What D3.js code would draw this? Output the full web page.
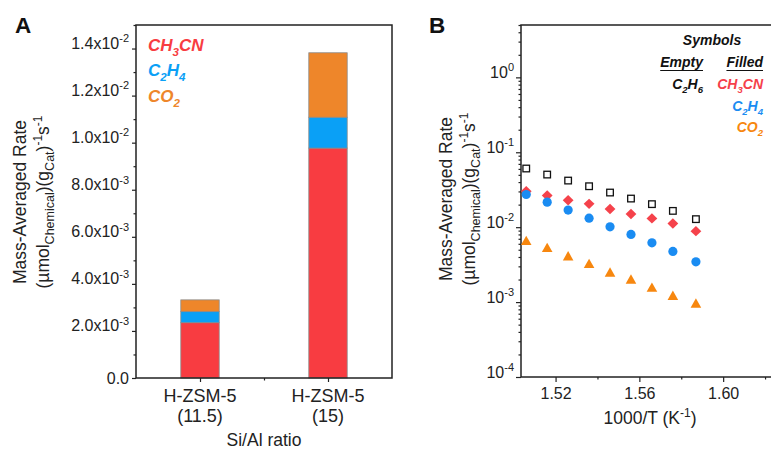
<!DOCTYPE html>
<html><head><meta charset="utf-8">
<script src="https://cdn.jsdelivr.net/npm/d3@7"></script>
<style>
body{margin:0;background:#fff;}
svg{display:block;font-family:"Liberation Sans",Arial,Helvetica,sans-serif;}
</style></head><body>
<svg id="chart" width="771" height="450"></svg>
<script>
// ---------- Panel A: stacked mass-averaged rates per catalyst ----------
const catalystNames = ["H-ZSM-5", "H-ZSM-5"];
const catalystRatios = ["(11.5)", "(15)"];
const products = ["CH3CN", "C2H4", "CO2"];
const rateCH3CN = [2.35e-3, 9.77e-3];
const rateC2H4 = [0.47e-3, 1.31e-3];
const rateCO2 = [0.50e-3, 2.74e-3];
const rateTicks = [0, 0.002, 0.004, 0.006, 0.008, 0.010, 0.012, 0.014];

// ---------- Panel B: Arrhenius-type plot ----------
const invT = [1.506, 1.516, 1.526, 1.536, 1.546, 1.556, 1.566, 1.576, 1.587];
const rC2H6 = [0.0607, 0.0504, 0.0419, 0.0352, 0.0290, 0.0241, 0.0203, 0.0165, 0.0128];
const rCH3CN = [0.0302, 0.0265, 0.0229, 0.0205, 0.0175, 0.0150, 0.0131, 0.0112, 0.00885];
const rC2H4 = [0.0273, 0.0216, 0.0169, 0.0132, 0.0101, 0.0080, 0.00618, 0.00474, 0.00345];
const rCO2 = [0.00665, 0.00536, 0.00414, 0.00328, 0.00251, 0.00203, 0.00158, 0.00123, 0.00097];
const invTTicks = [1.52, 1.56, 1.60];
const invTMinor = [1.54, 1.58, 1.62];
const logTicks = [1, 0.1, 0.01, 0.001, 0.0001];

const colors = { CH3CN: "#f83c41", C2H4: "#0aa0f6", CO2: "#ee862a" };
const markColors = { CH3CN: "#f5424b", C2H4: "#1a8cf2", CO2: "#f7870f", C2H6: "#111" };
const textColors = { CH3CN: "#f5404a", C2H4: "#1a8cf2", CO2: "#f7870f", C2H6: "#111" };
const ink = "#222";

const svg = d3.select("#chart");
svg.append("rect").attr("width", 771).attr("height", 450).attr("fill", "#fff");

// Writes a string into a text element; digits after letters become subscripts
// and explicit parts can be marked sub/sup.
function rich(textSel, parts, baseSize) {
  let shift = 0;
  parts.forEach(p => {
    const target = p.sub ? 0.3 * baseSize : p.sup ? -0.42 * baseSize : 0;
    const ts = textSel.append("tspan").text(p.t).attr("dy", target - shift);
    if (p.sub || p.sup) ts.attr("font-size", (p.size || 0.68 * baseSize));
    shift = target;
  });
}
function formulaParts(str) {
  const out = [];
  str.replace(/(\d+)|(\D+)/g, (m, d, l) => { out.push(d ? { t: d, sub: true } : { t: l }); });
  return out;
}

// ===================== Panel A =====================
const A = { l: 136, r: 392, t: 25, b: 378 };
const xA = d3.scaleLinear().domain([0.5, 2.5]).range([A.l, A.r]);
const yA = d3.scaleLinear().domain([0, 0.015]).range([A.b, A.t]);
const barW = 0.3;

const rowsA = catalystNames.map((n, i) => ({ pos: i + 1, CH3CN: rateCH3CN[i], C2H4: rateC2H4[i], CO2: rateCO2[i] }));
const stackA = d3.stack().keys(products)(rowsA);

const gA = svg.append("g");
stackA.forEach(layer => {
  gA.append("g").selectAll("rect").data(layer).join("rect")
    .attr("x", d => xA(d.data.pos - barW / 2))
    .attr("width", d => xA(barW) - xA(0))
    .attr("y", d => yA(d[1]))
    .attr("height", d => yA(d[0]) - yA(d[1]))
    .attr("fill", colors[layer.key])
    .attr("stroke", "#8a8a8a").attr("stroke-width", 0.8);
});

// y axis A
const yAxisA = gA.append("g").attr("transform", `translate(${A.l},0)`)
  .call(d3.axisLeft(yA).tickValues(rateTicks).tickSize(4).tickPadding(3).tickFormat(""));
gA.append("g").attr("transform", `translate(${A.l},0)`)
  .call(d3.axisLeft(yA).tickValues(d3.range(0.001, 0.0151, 0.002)).tickSize(2.5).tickFormat(""));
yAxisA.selectAll(".tick text").each(function (d) {
  const t = d3.select(this).attr("font-size", 16).attr("fill", ink).attr("x", -7).attr("dy", "0.36em");
  if (d === 0) { t.text("0.0"); return; }
  const e = Math.floor(Math.log10(d) + 1e-9);
  const m = (d / Math.pow(10, e)).toFixed(1);
  rich(t, [{ t: m + "x10" }, { t: String(e), sup: true, size: 11 }], 16);
});

// x axis A
const xAxisA = gA.append("g").attr("transform", `translate(0,${A.b})`)
  .call(d3.axisBottom(xA).tickValues([1, 2]).tickSize(4).tickFormat(""));
gA.append("g").attr("transform", `translate(0,${A.b})`)
  .call(d3.axisBottom(xA).tickValues([1.5]).tickSize(2.5).tickFormat(""));
[1, 2].forEach((p, i) => {
  const t = gA.append("text").attr("x", xA(p)).attr("text-anchor", "middle")
    .attr("font-size", 18).attr("fill", ink);
  t.append("tspan").attr("x", xA(p)).attr("y", 402).text(catalystNames[i]);
  t.append("tspan").attr("x", xA(p)).attr("y", 422).text(catalystRatios[i]);
});
gA.append("text").attr("x", 264).attr("y", 446).attr("text-anchor", "middle")
  .attr("font-size", 17.5).attr("fill", ink).text("Si/Al ratio");

svg.selectAll(".domain").remove();
svg.selectAll(".tick line").attr("stroke", ink).attr("stroke-width", 1.2);
gA.append("rect").attr("x", A.l).attr("y", A.t).attr("width", A.r - A.l).attr("height", A.b - A.t)
  .attr("fill", "none").attr("stroke", ink).attr("stroke-width", 1.5);

// legend A
products.forEach((k, i) => {
  const t = gA.append("text").attr("x", 148).attr("y", 50.7 + i * 25.4)
    .attr("font-size", 17).attr("font-weight", "bold").attr("font-style", "italic")
    .attr("fill", colors[k]);
  rich(t, formulaParts(k), 17);
});

// y title (shared style)
function yTitle(g, x1, x2, cy) {
  g.append("text").attr("transform", `translate(${x1},${cy}) rotate(-90)`)
    .attr("text-anchor", "middle").attr("font-size", 17.5).attr("fill", ink)
    .text("Mass-Averaged Rate");
  const t = g.append("text").attr("transform", `translate(${x2},${cy}) rotate(-90)`)
    .attr("text-anchor", "middle").attr("font-size", 17.5).attr("fill", ink);
  rich(t, [
    { t: "(µmol" }, { t: "Chemical", sub: true, size: 12.5 }, { t: ")(g" },
    { t: "Cat", sub: true, size: 12.5 }, { t: ")" }, { t: "-1", sup: true, size: 12 },
    { t: "s" }, { t: "-1", sup: true, size: 12 }
  ], 17.5);
}
yTitle(gA, 25.5, 49, 202);

svg.append("text").attr("x", 15).attr("y", 32.7).attr("font-size", 22.5).attr("font-weight", "bold")
  .attr("fill", "#111").text("A");

// ===================== Panel B =====================
const B = { l: 521, r: 786, t: 25, b: 377 };
const xB = d3.scaleLinear().domain([1.5035, 1.630]).range([B.l, B.r]);
const yB = d3.scaleLog().domain([1e-4, 5]).range([B.b, B.t]);
const gB = svg.append("g");

const yAxisB = gB.append("g").attr("transform", `translate(${B.l},0)`)
  .call(d3.axisLeft(yB).tickValues(logTicks).tickSize(5).tickFormat(""));
const minorLog = [];
for (let k = -4; k <= 0; k++) for (let m = 2; m <= 9; m++) { const v = m * Math.pow(10, k); if (v <= 5) minorLog.push(v); }
gB.append("g").attr("transform", `translate(${B.l},0)`)
  .call(d3.axisLeft(yB).tickValues(minorLog).tickSize(2.5).tickFormat(""));
yAxisB.selectAll(".tick text").each(function (d) {
  const t = d3.select(this).attr("font-size", 16).attr("fill", ink).attr("x", -7).attr("dy", "0.36em");
  const e = Math.round(Math.log10(d));
  rich(t, [{ t: "10" }, { t: String(e), sup: true, size: 11 }], 16);
});

const xAxisB = gB.append("g").attr("transform", `translate(0,${B.b})`)
  .call(d3.axisBottom(xB).tickValues(invTTicks).tickSize(5).tickPadding(6).tickFormat(d3.format(".2f")));
gB.append("g").attr("transform", `translate(0,${B.b})`)
  .call(d3.axisBottom(xB).tickValues(invTMinor).tickSize(2.5).tickFormat(""));
xAxisB.selectAll(".tick text").attr("font-size", 16).attr("fill", ink);

const xt = gB.append("text").attr("x", 650).attr("y", 424).attr("text-anchor", "middle")
  .attr("font-size", 17.5).attr("fill", ink);
rich(xt, [{ t: "1000/T (K" }, { t: "-1", sup: true, size: 12 }, { t: ")" }], 17.5);

svg.selectAll(".domain").remove();
svg.selectAll(".tick line").attr("stroke", ink).attr("stroke-width", 1.2);
gB.append("rect").attr("x", B.l).attr("y", B.t).attr("width", B.r - B.l).attr("height", B.b - B.t)
  .attr("fill", "none").attr("stroke", ink).attr("stroke-width", 1.5);

yTitle(gB, 452, 475, 199);
svg.append("text").attr("x", 429).attr("y", 32.7).attr("font-size", 22.5).attr("font-weight", "bold")
  .attr("fill", "#111").text("B");

// markers
const ptsC2H6 = invT.map((x, i) => [x, rC2H6[i]]);
const ptsCH3CN = invT.map((x, i) => [x, rCH3CN[i]]);
const ptsC2H4 = invT.map((x, i) => [x, rC2H4[i]]);
const ptsCO2 = invT.map((x, i) => [x, rCO2[i]]);

gB.append("g").selectAll("rect").data(ptsC2H6).join("rect")
  .attr("x", d => xB(d[0]) - 3.3).attr("y", d => yB(d[1]) - 3.3)
  .attr("width", 6.6).attr("height", 6.6)
  .attr("fill", "none").attr("stroke", markColors.C2H6).attr("stroke-width", 1.3);
gB.append("g").selectAll("path").data(ptsCH3CN).join("path")
  .attr("transform", d => `translate(${xB(d[0])},${yB(d[1])})`)
  .attr("d", "M0,-5.2L5.4,0L0,5.2L-5.4,0Z").attr("fill", markColors.CH3CN);
gB.append("g").selectAll("circle").data(ptsC2H4).join("circle")
  .attr("cx", d => xB(d[0])).attr("cy", d => yB(d[1])).attr("r", 4.6)
  .attr("fill", markColors.C2H4);
gB.append("g").selectAll("path").data(ptsCO2).join("path")
  .attr("transform", d => `translate(${xB(d[0])},${yB(d[1])})`)
  .attr("d", "M0,-4.8L5.3,4.6L-5.3,4.6Z").attr("fill", markColors.CO2);

// symbol legend B
function legText(x, y, parts, color, anchor) {
  const t = gB.append("text").attr("x", x).attr("y", y).attr("text-anchor", anchor || "end")
    .attr("font-size", 14).attr("font-weight", "bold").attr("font-style", "italic").attr("fill", color);
  rich(t, parts, 14);
  return t;
}
legText(712, 45, [{ t: "Symbols" }], "#111", "middle");
[["Empty", 703], ["Filled", 763]].forEach(([s, x]) => {
  const t = legText(x, 67, [{ t: s }], "#111");
  const w = t.node().getComputedTextLength();
  gB.append("line").attr("x1", x - w).attr("x2", x).attr("y1", 70.5).attr("y2", 70.5)
    .attr("stroke", "#111").attr("stroke-width", 1.2);
});
legText(703, 89, formulaParts("C2H6"), textColors.C2H6);
legText(763, 89, formulaParts("CH3CN"), textColors.CH3CN);
legText(763, 111, formulaParts("C2H4"), textColors.C2H4);
legText(763, 132, formulaParts("CO2"), textColors.CO2);
</script>
</body></html>
